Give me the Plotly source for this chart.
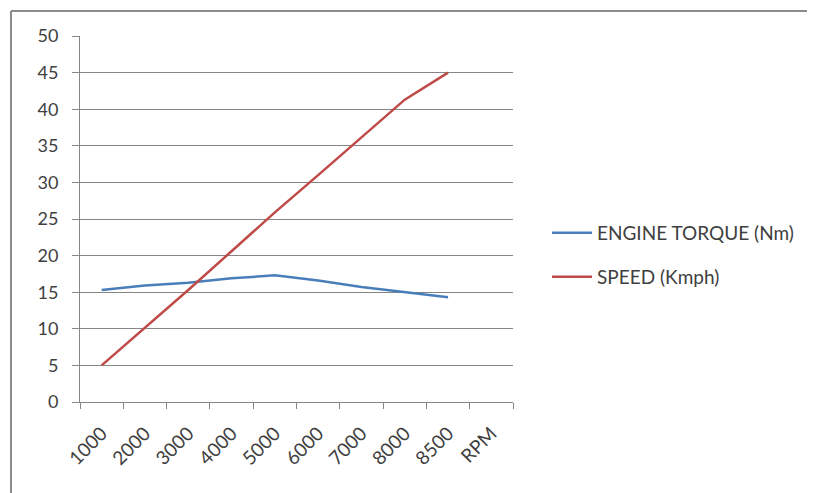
import plotly.graph_objects as go

categories = ["1000", "2000", "3000", "4000", "5000", "6000", "7000", "8000", "8500", "RPM"]
torque = [15.3, 15.9, 16.3, 16.9, 17.3, 16.6, 15.7, 15.0, 14.3, None]
speed = [5, 10.1, 15.3, 20.6, 25.9, 31.0, 36.1, 41.3, 45, None]
y_ticks = [0, 5, 10, 15, 20, 25, 30, 35, 40, 45, 50]

OFF = 8  # page body margin
W, H = 815 - OFF, 493 - OFF
# plot area in screen pixels
SL, SR, ST, SB = 80, 513, 36, 402
L, R, T, B = SL - OFF, SR - OFF, ST - OFF, SB - OFF


def px(sx):
    return (sx - SL) / (SR - SL)


def py(sy):
    return (SB - sy) / (SB - ST)


fig = go.Figure()
fig.add_trace(go.Scatter(x=categories, y=torque, mode="lines", name="ENGINE TORQUE (Nm)",
                         line=dict(color="#4A7EBB", width=2.5), legend="legend"))
fig.add_trace(go.Scatter(x=categories, y=speed, mode="lines", name="SPEED (Kmph)",
                         line=dict(color="#BE4B48", width=2.5), legend="legend2"))

fig.add_shape(type="line", xref="paper", yref="paper", x0=px(11), x1=px(11), y0=py(11), y1=py(500),
              line=dict(color="#8C8C8C", width=2))
fig.add_shape(type="line", xref="paper", yref="paper", x0=px(11), x1=px(820), y0=py(11), y1=py(11),
              line=dict(color="#8C8C8C", width=2))
fig.add_shape(type="line", xref="paper", yref="paper", x0=px(813), x1=px(813), y0=py(12), y1=py(500),
              line=dict(color="#EBEBEB", width=1))

yfont = dict(family="Lato, Open Sans, sans-serif", size=18, color="#404040")
xfont = dict(family="Lato, Open Sans, sans-serif", size=19, color="#404040")
lfont = dict(family="Lato, Open Sans, sans-serif", size=19, color="#404040")

fig.update_layout(
    width=W, height=H,
    margin=dict(l=L, r=W - R, t=T, b=H - B),
    paper_bgcolor="white", plot_bgcolor="white",
    font=yfont,
    showlegend=True,
    legend=dict(x=px(547), y=py(233), xanchor="left", yanchor="middle", font=lfont,
                bgcolor="rgba(0,0,0,0)", itemwidth=40),
    legend2=dict(x=px(547), y=py(277), xanchor="left", yanchor="middle", font=lfont,
                 bgcolor="rgba(0,0,0,0)", itemwidth=40),
    xaxis=dict(type="category", categoryorder="array", categoryarray=categories,
               range=[-0.5, len(categories) - 0.5],
               showgrid=False, showline=True, linecolor="#868686", linewidth=1,
               ticks="outside", tickson="boundaries", ticklen=6, tickcolor="#868686",
               tickangle=-45, tickfont=xfont, ticklabelstandoff=12, zeroline=False),
    yaxis=dict(range=[0, 50], tickvals=y_ticks, showgrid=True, gridcolor="#868686", gridwidth=1,
               showline=True, linecolor="#868686", linewidth=1,
               ticks="outside", ticklen=7, tickcolor="#868686", tickfont=yfont,
               ticklabelstandoff=10, zeroline=False),
)

fig.write_html("out.html")
